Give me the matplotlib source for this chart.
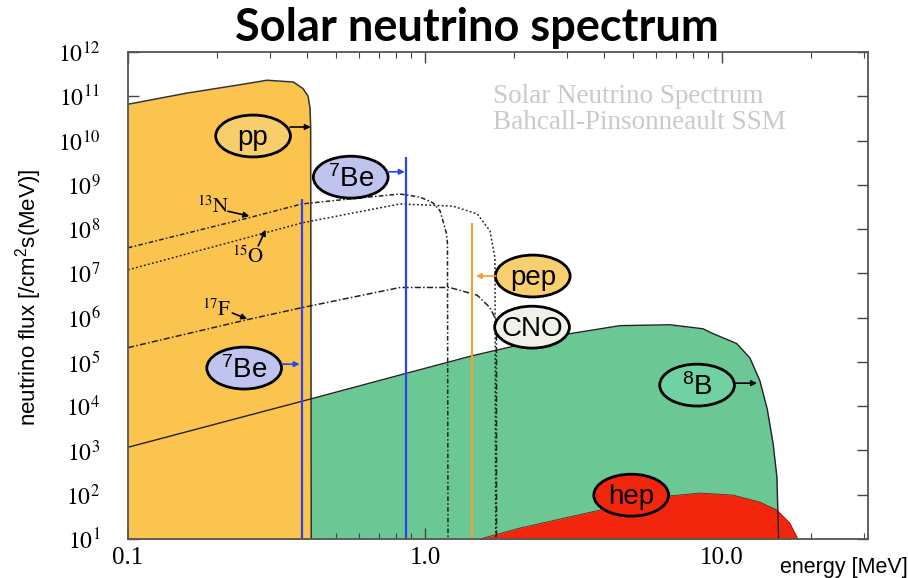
import numpy as np
import matplotlib.pyplot as plt
from matplotlib.patches import Ellipse
from matplotlib.ticker import NullFormatter

plt.rcParams['mathtext.fontset'] = 'custom'
plt.rcParams['mathtext.rm'] = 'Liberation Sans'
plt.rcParams['mathtext.it'] = 'Liberation Sans:italic'
plt.rcParams['mathtext.bf'] = 'Liberation Sans:bold'

# continuum spectra: energy [MeV], flux [/cm2 s MeV]
pp_E = [0.100, 0.158, 0.233, 0.294, 0.360, 0.388, 0.404, 0.410, 0.412, 0.414]
pp_F = [6.6e10, 1.18e11, 1.78e11, 2.3e11, 2.1e11, 1.5e11, 1.0e11, 5.4e10, 2e10, 10]

n13_E = [0.100, 0.2535, 0.385, 0.559, 0.824, 0.962, 1.064, 1.123, 1.15, 1.18, 1.19, 1.195]
n13_F = [3.78e7, 1.78e8, 3.7e8, 4.8e8, 6.2e8, 5.3e8, 3.9e8, 2.6e8, 1.5e8, 8.1e7, 4.7e7, 10]

o15_E = [0.100, 0.385, 0.824, 1.24, 1.50, 1.655, 1.72, 1.73]
o15_F = [1.2e7, 1.38e8, 3.7e8, 3.3e8, 2.2e8, 9.1e7, 2.2e7, 10]

f17_E = [0.100, 0.252, 0.385, 0.824, 1.21, 1.50, 1.655, 1.74, 1.74]
f17_F = [2.1e5, 9.0e5, 1.68e6, 4.8e6, 4.8e6, 3.2e6, 1.68e6, 8.5e5, 10]

b8_E = [0.100, 0.419, 0.863, 1.45, 2.04, 3.08, 4.54, 6.68, 8.63, 9.33, 11.2, 12.4,
        13.4, 14.2, 14.85, 15.3, 15.5]
b8_F = [1.18e3, 1.5e4, 5.5e4, 1.39e5, 2.35e5, 4.35e5, 6.6e5, 6.9e5, 5.6e5, 4.35e5,
        2.6e5, 1.24e5, 3.8e4, 8.5e3, 1.45e3, 250, 10]

hep_E = [1.53, 2.09, 3.88, 6.53, 8.43, 10.9, 13.4, 15.3, 16.9, 18.0]
hep_F = [10, 17.7, 45, 93, 109, 98, 68, 45, 23, 10]

# line sources: energy [MeV], flux [/cm2 s]
be7a_E, be7a_F = 0.384, 4.8e8
be7b_E, be7b_F = 0.862, 4.3e9
pep_E, pep_F = 1.442, 1.4e8

yellow = '#fbc44f'
green = '#6bc794'
red = '#f2260d'
blue = '#2b45ee'
orange = '#f5a030'

fig = plt.figure(figsize=(9.08, 5.78), dpi=100)
ax = fig.add_axes([128 / 908, 1 - 539 / 578, 740 / 908, 487 / 578])
ax.set_xscale('log')
ax.set_yscale('log')
ax.set_xlim(0.1, 31)
ax.set_ylim(10, 1e12)

ax.fill_between(b8_E, b8_F, 10, color=green, lw=0, zorder=1)
ax.fill_between(pp_E, pp_F, 10, color=yellow, lw=0, zorder=2)
ax.fill_between(hep_E, hep_F, 10, color=red, lw=0, zorder=3)
ax.plot(pp_E, pp_F, color='#333333', lw=1.1, zorder=4)
ax.plot(hep_E, hep_F, color='#7a1a10', lw=0.6, zorder=4)
ax.plot(b8_E, b8_F, color='#222222', lw=1.0, zorder=5)

ax.plot(n13_E, n13_F, color='#222222', lw=1.1, ls=(0, (3, 1.5, 1, 1.5)), zorder=5)
ax.plot(o15_E, o15_F, color='#222222', lw=1.1, ls=(0, (1.2, 1.5)), zorder=5)
ax.plot(f17_E, f17_F, color='#222222', lw=1.1, ls=(0, (4, 1.5, 1, 1.5)), zorder=5)

ax.vlines(be7a_E, 10, be7a_F, color=blue, lw=1.6, zorder=6)
ax.vlines(be7b_E, 10, be7b_F, color=blue, lw=1.6, zorder=6)
ax.vlines(pep_E, 10, pep_F, color=orange, lw=1.5, zorder=6)

# labels in ellipses (axes fraction)
def bubble(cx, cy, txt, fc, w=0.101, h=0.086):
    ax.add_patch(Ellipse((cx, cy), w, h, transform=ax.transAxes, fc=fc,
                         ec='black', lw=2.0, zorder=8))
    ax.text(cx, cy - 0.004, txt, transform=ax.transAxes, ha='center', va='center',
            fontsize=20, family='Liberation Sans', zorder=9)

def arrow(x0, y0, x1, y1, c):
    ax.annotate('', xy=(x1, y1), xytext=(x0, y0), xycoords='axes fraction',
                arrowprops=dict(arrowstyle='-|>', color=c, lw=1.2,
                                mutation_scale=8, shrinkA=0, shrinkB=0), zorder=8)

bubble(0.169, 0.8275, 'pp', '#f8cd6c')
arrow(0.219, 0.846, 0.247, 0.846, 'black')
bubble(0.301, 0.743, r'$^{7}$Be', '#bfc4ee')
arrow(0.351, 0.754, 0.374, 0.754, blue)
bubble(0.157, 0.351, r'$^{7}$Be', '#bfc4ee')
arrow(0.208, 0.359, 0.232, 0.359, blue)
bubble(0.547, 0.540, 'pep', '#f8cf6e')
arrow(0.497, 0.540, 0.470, 0.540, orange)
bubble(0.546, 0.435, 'CNO', '#f1f1ea')
bubble(0.769, 0.316, r'$^{8}$B', '#70d1a5')
arrow(0.820, 0.320, 0.850, 0.320, 'black')
bubble(0.680, 0.090, 'hep', red)

# CNO isotope labels
for x, y, txt in [(0.115, 0.682, r'$^{13}\mathrm{N}$'), (0.162, 0.579, r'$^{15}\mathrm{O}$'),
                  (0.120, 0.470, r'$^{17}\mathrm{F}$')]:
    t = ax.text(x, y, txt, transform=ax.transAxes, ha='center', va='center',
                fontsize=15, family='Liberation Serif', zorder=9)
    t.set_math_fontfamily('stix')
for x0, y0, x1, y1 in [(0.135, 0.673, 0.164, 0.663), (0.176, 0.602, 0.186, 0.635),
                       (0.141, 0.464, 0.161, 0.452)]:
    arrow(x0, y0, x1, y1, 'black')

ax.text(0.493, 0.908, 'Solar Neutrino Spectrum', transform=ax.transAxes,
        ha='left', va='center', fontsize=19.5, family='Liberation Serif', color='#cacaca')
ax.text(0.493, 0.856, 'Bahcall-Pinsonneault SSM', transform=ax.transAxes,
        ha='left', va='center', fontsize=19.5, family='Liberation Serif', color='#cacaca')

# axes styling
ax.set_yticks([10.0 ** k for k in range(1, 13)])
ax.set_yticklabels([r'$10^{%d}$' % k for k in range(1, 13)])
ax.yaxis.set_minor_formatter(NullFormatter())
ax.set_xticks([0.1, 1, 10])
ax.set_xticklabels(['0.1', '1.0', '10.0'])
ax.xaxis.set_minor_formatter(NullFormatter())
for lab in ax.get_yticklabels():
    lab.set_math_fontfamily('stix')
    lab.set_fontsize(17)
for lab in ax.get_xticklabels():
    lab.set_family('Liberation Serif')
    lab.set_fontsize(18)
ax.tick_params(which='both', direction='in', top=True, right=True, color='#444444')
ax.tick_params(which='major', length=8, width=1.0)
ax.tick_params(which='minor', length=4, width=0.8)
ax.tick_params(axis='y', pad=20)
ax.tick_params(axis='x', pad=6)
for s in ax.spines.values():
    s.set_color('#555555')
    s.set_linewidth(1.3)
    s.set_zorder(10)

fig.text(0.525, 0.952, 'Solar neutrino spectrum', ha='center', va='center',
         fontsize=32.5, fontweight='bold', family='Lato')
fig.text(780 / 908, 1 - 568 / 578, 'energy [MeV]', ha='left', va='center',
         fontsize=15.5, family='Liberation Sans')
fig.text(29 / 908, 0.486, r'neutrino flux [/cm$^{2}$s(MeV)]', ha='center', va='center',
         rotation=90, fontsize=16, family='Liberation Sans')

fig.savefig('out.png', dpi=100)
